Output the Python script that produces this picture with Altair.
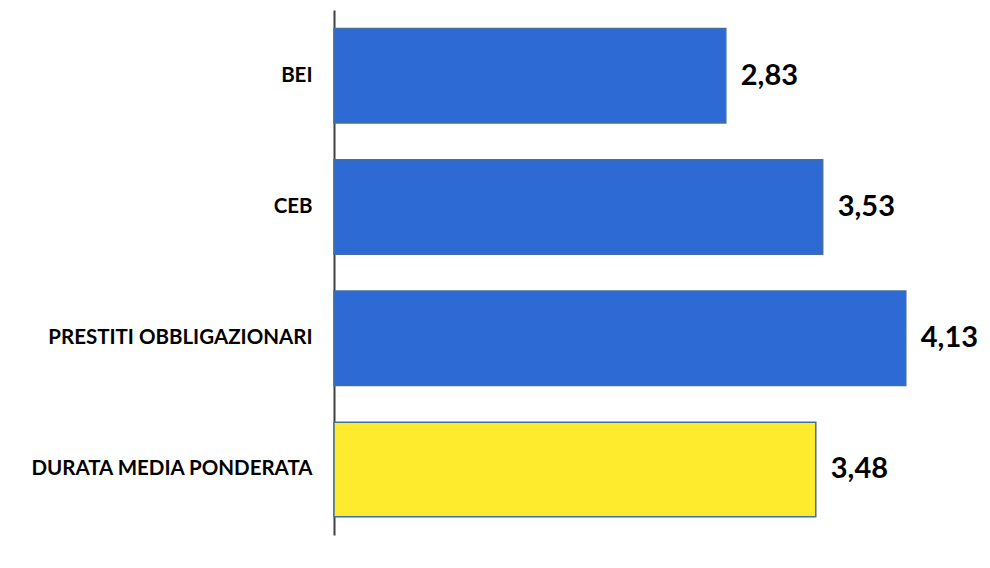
import altair as alt
import pandas as pd

categories = ["BEI", "CEB", "PRESTITI OBBLIGAZIONARI", "DURATA MEDIA PONDERATA"]
values = [2.83, 3.53, 4.13, 3.48]
groups = ["fonte", "fonte", "fonte", "media"]

df = pd.DataFrame({"categoria": categories, "valore": values, "gruppo": groups})

y_enc = alt.Y(
    "categoria:N",
    sort=categories,
    scale=alt.Scale(paddingInner=0.28, paddingOuter=0.14),
    axis=alt.Axis(
        title=None,
        ticks=False,
        grid=False,
        domainColor="#404040",
        domainWidth=2,
        labelFont="Lato",
        labelFontWeight="bold",
        labelFontSize=20.5,
        labelColor="#000000",
        labelPadding=22,
        labelLimit=400,
    ),
)
x_scale = alt.Scale(domain=[0, 4.5], nice=False)

bars = alt.Chart(df).mark_bar(stroke="#41719C", strokeWidth=1.5).encode(
    x=alt.X("valore:Q", scale=x_scale, axis=None),
    y=y_enc,
    color=alt.Color(
        "gruppo:N",
        scale=alt.Scale(domain=["fonte", "media"], range=["#2D6AD3", "#FFEB2E"]),
        legend=None,
    ),
)

labels = alt.Chart(df).transform_calculate(
    etichetta="replace(format(datum.valore, '.2f'), '.', ',')"
).mark_text(
    align="left", baseline="middle", dx=15, font="Lato", fontWeight="bold", fontSize=29, color="#000000"
).encode(
    x=alt.X("valore:Q", scale=x_scale, axis=None),
    y=alt.Y("categoria:N", sort=categories),
    text="etichetta:N",
)

chart = (
    alt.layer(bars, labels)
    .properties(
        width=623,
        height=525,
        autosize=alt.AutoSizeParams(type="none"),
        padding={"left": 334, "top": 10, "right": 33, "bottom": 33},
        background="#ffffff",
    )
    .configure_view(stroke=None, clip=False)
)

chart.save("out.html", embed_options={"renderer": "svg", "actions": False})
